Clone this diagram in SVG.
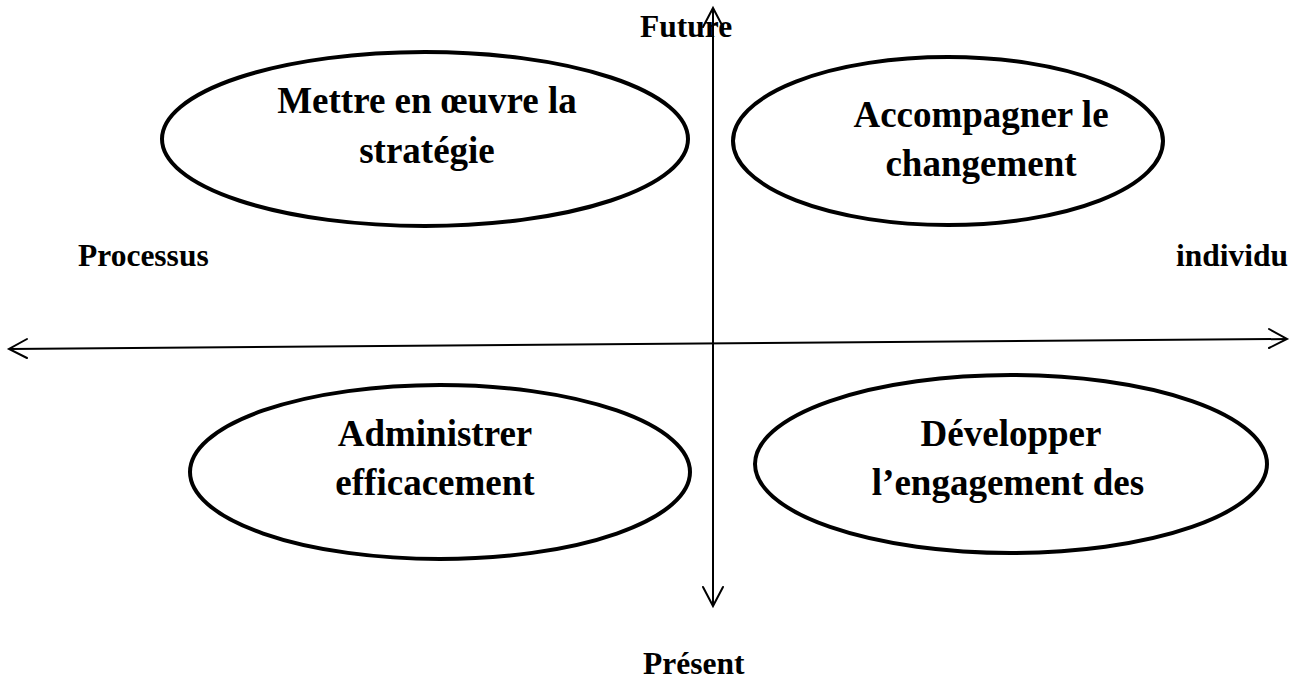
<svg xmlns="http://www.w3.org/2000/svg" width="1299" height="684" viewBox="0 0 1299 684">
  <style>
    .node ellipse { fill: #ffffff; stroke: #000000; stroke-width: 4; }
    .lbl { font-family: "Liberation Serif", "Times New Roman", serif; font-weight: bold; fill: #000000; }
    .big { font-size: 37px; text-anchor: middle; }
    .axis-lbl { font-size: 31.5px; }
    .axis { stroke: #000000; stroke-width: 2; fill: none; }
    .head { stroke: #000000; stroke-width: 2; fill: none; stroke-linecap: round; }
  </style>
  <rect width="1299" height="684" fill="#ffffff"/>

  <g id="quadrant-strategie" class="node">
    <ellipse cx="425" cy="139" rx="263" ry="87"/>
    <text class="lbl big" x="427" y="113">Mettre en œuvre la</text>
    <text class="lbl big" x="427" y="163">stratégie</text>
  </g>

  <g id="quadrant-changement" class="node">
    <ellipse cx="948" cy="141" rx="215" ry="84"/>
    <text class="lbl big" x="981" y="127">Accompagner le</text>
    <text class="lbl big" x="981" y="176">changement</text>
  </g>

  <g id="quadrant-administrer" class="node">
    <ellipse cx="440" cy="472" rx="250" ry="87"/>
    <text class="lbl big" x="435" y="446">Administrer</text>
    <text class="lbl big" x="435" y="495">efficacement</text>
  </g>

  <g id="quadrant-engagement" class="node">
    <ellipse cx="1011" cy="464" rx="256" ry="89"/>
    <text class="lbl big" x="1011" y="446">Développer</text>
    <text class="lbl big" x="1008" y="495">l’engagement des</text>
  </g>

  <g id="axes">
    <line class="axis" x1="713" y1="8" x2="713" y2="606"/>
    <polyline class="head" points="703,27 713,8 723,27"/>
    <polyline class="head" points="703,587 713,606 723,587"/>
    <line class="axis" x1="9" y1="349" x2="1287" y2="339"/>
    <polyline class="head" points="27,339 9,349 27,358"/>
    <polyline class="head" points="1269,329 1287,339 1269,348"/>
  </g>

  <g id="axis-labels">
    <text class="lbl axis-lbl" x="640" y="37">Future</text>
    <text class="lbl axis-lbl" x="78" y="266">Processus</text>
    <text class="lbl axis-lbl" x="1176" y="266">individu</text>
    <text class="lbl axis-lbl" x="643" y="674">Présent</text>
  </g>
</svg>
